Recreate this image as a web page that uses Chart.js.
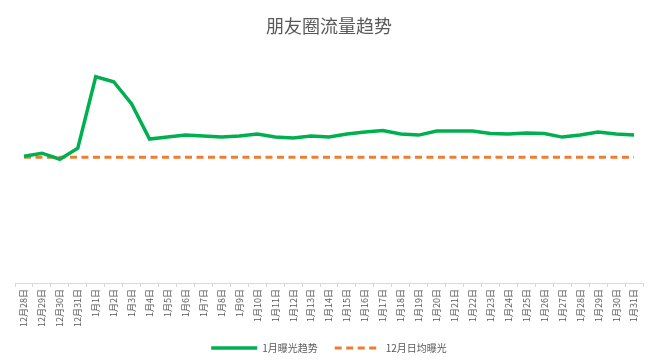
<!DOCTYPE html>
<html>
<head>
<meta charset="utf-8">
<script src="https://cdn.jsdelivr.net/npm/chart.js@4/dist/chart.umd.min.js"></script>
<style>
  html, body { margin: 0; padding: 0; background: #fff; }
  #wrap { width: 658px; height: 364px; }
</style>
</head>
<body>
<div id="wrap"><canvas id="c"></canvas></div>
<script>
const days = ['12月28日','12月29日','12月30日','12月31日',
  '1月1日','1月2日','1月3日','1月4日','1月5日','1月6日','1月7日','1月8日','1月9日','1月10日',
  '1月11日','1月12日','1月13日','1月14日','1月15日','1月16日','1月17日','1月18日','1月19日','1月20日',
  '1月21日','1月22日','1月23日','1月24日','1月25日','1月26日','1月27日','1月28日','1月29日','1月30日','1月31日'];
// 1月曝光趋势 (arbitrary units)
const janExposure = [1008,1032,984,1072,1640,1600,1424,1144,1160,1176,1168,1160,1168,1184,
  1160,1152,1168,1160,1184,1200,1212,1184,1176,1208,1208,1208,1188,1184,1192,1188,1160,1176,1200,1184,1176];
// 12月日均曝光
const decAverage = days.map(() => 1000);

const font = "'Noto Sans CJK SC', 'Noto Sans', sans-serif";
Chart.defaults.font.family = font;

new Chart(document.getElementById('c'), {
  type: 'line',
  data: {
    labels: days,
    datasets: [{
      label: '1月曝光趋势',
      data: janExposure,
      borderColor: '#00B050',
      backgroundColor: '#00B050',
      borderWidth: 3.5,
      pointRadius: 0,
      tension: 0
    }, {
      label: '12月日均曝光',
      data: decAverage,
      borderColor: '#ED7D31',
      backgroundColor: '#ED7D31',
      borderWidth: 3,
      borderDash: [7, 4.5],
      pointRadius: 0,
      tension: 0
    }]
  },
  options: {
    responsive: true,
    maintainAspectRatio: false,
    animation: false,
    layout: { padding: { left: 15, right: 15, top: 0, bottom: 1 } },
    plugins: {
      title: {
        display: true,
        text: '朋友圈流量趋势',
        color: '#595959',
        font: { size: 18, weight: 'normal' },
        padding: { top: 15, bottom: 20 }
      },
      legend: {
        position: 'bottom',
        labels: {
          usePointStyle: true,
          pointStyle: 'line',
          pointStyleWidth: 46,
          color: '#595959',
          font: { size: 10 },
          padding: 17,
          generateLabels(chart) {
            const items = Chart.defaults.plugins.legend.labels.generateLabels(chart);
            items.forEach(it => {
              const ds = chart.data.datasets[it.datasetIndex];
              it.lineDash = ds.borderDash || [];
              it.lineWidth = ds.borderWidth;
              it.strokeStyle = ds.borderColor;
            });
            return items;
          }
        }
      },
      tooltip: { enabled: false }
    },
    scales: {
      x: {
        offset: true,
        afterFit(scale) { scale.height = 43; },
        grid: {
          offset: true,
          drawOnChartArea: false,
          drawTicks: true,
          tickLength: 4,
          color: '#d9d9d9'
        },
        border: { color: '#d9d9d9' },
        ticks: {
          minRotation: 90,
          maxRotation: 90,
          autoSkip: false,
          padding: 2,
          color: '#595959',
          font: { size: 9 }
        }
      },
      y: {
        display: false,
        min: 0,
        max: 1800
      }
    }
  }
});
</script>
</body>
</html>
